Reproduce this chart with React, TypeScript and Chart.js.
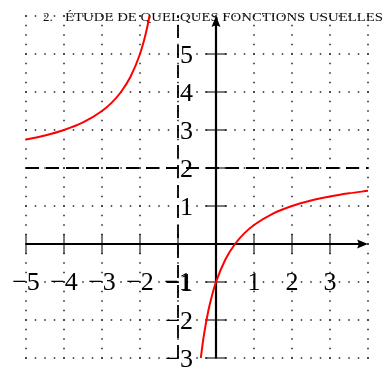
import React, { useEffect, useRef } from "react";
import { Chart, registerables } from "chart.js";

Chart.register(...registerables);

// ---- data ----
const leftX = [-5, -4.5, -4, -3.5, -3, -2.75, -2.5, -2.25, -2, -1.9, -1.8, -1.75];
const leftY = [2.75, 2.857, 3, 3.2, 3.5, 3.714, 4, 4.4, 5, 5.333, 5.75, 6];
const rightX = [-0.4, -0.35, -0.3, -0.2, -0.1, 0, 0.25, 0.5, 0.75, 1, 1.5, 2, 2.5, 3, 3.5, 4];
const rightY = [-3, -2.615, -2.286, -1.75, -1.333, -1, -0.4, 0, 0.286, 0.5, 0.8, 1, 1.143, 1.25, 1.333, 1.4];
const vAsymptote = -1;
const hAsymptote = 2;
const xMin = -5;
const xMax = 4;
const yMin = -3;
const yMax = 6;
const gridX = [-5, -4, -3, -2, -1, 0, 1, 2, 3, 4];
const gridY = [-3, -2, -1, 0, 1, 2, 3, 4, 5, 6];
const xTickVals = [-5, -4, -3, -2, -1, 1, 2, 3];
const xTickLabels = ["−5", "−4", "−3", "−2", "−1", "1", "2", "3"];
const yTickVals = [-3, -2, -1, 1, 2, 3, 4, 5];
const yTickLabels = ["−3", "−2", "−1", "1", "2", "3", "4", "5"];
const titleNum = "2.";
const titleText = "ÉTUDE DE QUELQUES FONCTIONS USUELLES";

const W = 385;
const H = 371;

const decor = {
  id: "decor",
  beforeDatasetsDraw(chart: any) {
    const ctx = chart.ctx;
    const xs = chart.scales.x;
    const ys = chart.scales.y;
    const px = (v: number) => xs.getPixelForValue(v);
    const py = (v: number) => ys.getPixelForValue(v);
    ctx.save();
    // title
    ctx.fillStyle = "#111";
    ctx.font = "13px 'Liberation Serif'";
    ctx.textBaseline = "alphabetic";
    ctx.textAlign = "left";
    ctx.fillText(titleNum, 43, 21);
    const tw = ctx.measureText(titleText).width;
    ctx.save();
    ctx.translate(65, 21);
    ctx.scale(318 / tw, 1);
    ctx.fillText(titleText, 0, 0);
    ctx.restore();
    // dotted grid
    ctx.fillStyle = "#222";
    const sub = 4;
    for (const gx of gridX) {
      for (let k = 0; k <= (yMax - yMin) * sub; k++) {
        const v = yMin + k / sub;
        ctx.fillRect(px(gx) - 0.75, py(v) - 0.75, 1.5, 1.5);
      }
    }
    for (const gy of gridY) {
      for (let k = 0; k <= (xMax - xMin) * sub; k++) {
        const v = xMin + k / sub;
        ctx.fillRect(px(v) - 0.75, py(gy) - 0.75, 1.5, 1.5);
      }
    }
    // ticks
    ctx.strokeStyle = "#222";
    ctx.lineWidth = 1.2;
    for (const t of [-5, -4, -3, -2, -1, 1, 2, 3]) {
      ctx.beginPath();
      ctx.moveTo(px(t), py(0) - 10);
      ctx.lineTo(px(t), py(0) + 10);
      ctx.stroke();
    }
    for (const t of [-3, -2, -1, 1, 2, 3, 4, 5]) {
      ctx.beginPath();
      ctx.moveTo(px(0) - 11, py(t));
      ctx.lineTo(px(0) + 11, py(t));
      ctx.stroke();
    }
    // axes
    ctx.strokeStyle = "#000";
    ctx.fillStyle = "#000";
    ctx.lineWidth = 2.2;
    ctx.beginPath();
    ctx.moveTo(px(xMin), py(0));
    ctx.lineTo(px(xMax) - 6, py(0));
    ctx.stroke();
    ctx.beginPath();
    ctx.moveTo(px(0), py(yMin));
    ctx.lineTo(px(0), py(yMax) + 6);
    ctx.stroke();
    // arrow heads
    const ax = px(xMax), ay = py(0);
    ctx.beginPath();
    ctx.moveTo(ax, ay);
    ctx.lineTo(ax - 11, ay - 4.5);
    ctx.quadraticCurveTo(ax - 8, ay, ax - 11, ay + 4.5);
    ctx.closePath();
    ctx.fill();
    const bx = px(0), by = py(yMax);
    ctx.beginPath();
    ctx.moveTo(bx, by);
    ctx.lineTo(bx - 4.5, by + 11);
    ctx.quadraticCurveTo(bx, by + 8, bx + 4.5, by + 11);
    ctx.closePath();
    ctx.fill();
    ctx.restore();
  },
  afterDatasetsDraw(chart: any) {
    const ctx = chart.ctx;
    const xs = chart.scales.x;
    const ys = chart.scales.y;
    const px = (v: number) => xs.getPixelForValue(v);
    const py = (v: number) => ys.getPixelForValue(v);
    ctx.save();
    ctx.fillStyle = "#000";
    ctx.font = "26px 'Liberation Serif'";
    ctx.textBaseline = "alphabetic";
    ctx.textAlign = "center";
    xTickVals.forEach((v, i) => {
      ctx.fillText(xTickLabels[i], px(v), py(-1) + 8);
    });
    ctx.textAlign = "right";
    yTickVals.forEach((v, i) => {
      ctx.fillText(yTickLabels[i], px(0) - 23, py(v) + 9);
    });
    ctx.restore();
  },
};

export default function App() {
  const ref = useRef<HTMLCanvasElement>(null);
  useEffect(() => {
    if (!ref.current) return;
    const chart = new Chart(ref.current, {
      type: "scatter",
      data: {
        datasets: [
          {
            data: [
              { x: vAsymptote, y: yMin },
              { x: vAsymptote, y: yMax },
            ],
            showLine: true,
            borderColor: "#000",
            borderWidth: 1.8,
            borderDash: [13, 7],
            pointRadius: 0,
          },
          {
            data: [
              { x: xMin, y: hAsymptote },
              { x: xMax, y: hAsymptote },
            ],
            showLine: true,
            borderColor: "#000",
            borderWidth: 1.8,
            borderDash: [13, 7],
            pointRadius: 0,
          },
          {
            data: leftX.map((x, i) => ({ x, y: leftY[i] })),
            showLine: true,
            borderColor: "#ff0000",
            borderWidth: 2,
            pointRadius: 0,
            cubicInterpolationMode: "monotone",
          },
          {
            data: rightX.map((x, i) => ({ x, y: rightY[i] })),
            showLine: true,
            borderColor: "#ff0000",
            borderWidth: 2,
            pointRadius: 0,
            cubicInterpolationMode: "monotone",
          },
        ],
      },
      options: {
        responsive: false,
        animation: false,
        clip: false,
        layout: { padding: { left: 26, right: 17, top: 16, bottom: 13 } },
        plugins: { legend: { display: false }, tooltip: { enabled: false }, title: { display: false } },
        scales: {
          x: { type: "linear", min: xMin, max: xMax, display: false },
          y: { type: "linear", min: yMin, max: yMax, display: false },
        },
      },
      plugins: [decor],
    } as any);
    return () => chart.destroy();
  }, []);
  return (
    <div style={{ position: "absolute", left: 0, top: 0 }}>
      <canvas ref={ref} width={W} height={H} style={{ display: "block" }} />
    </div>
  );
}
